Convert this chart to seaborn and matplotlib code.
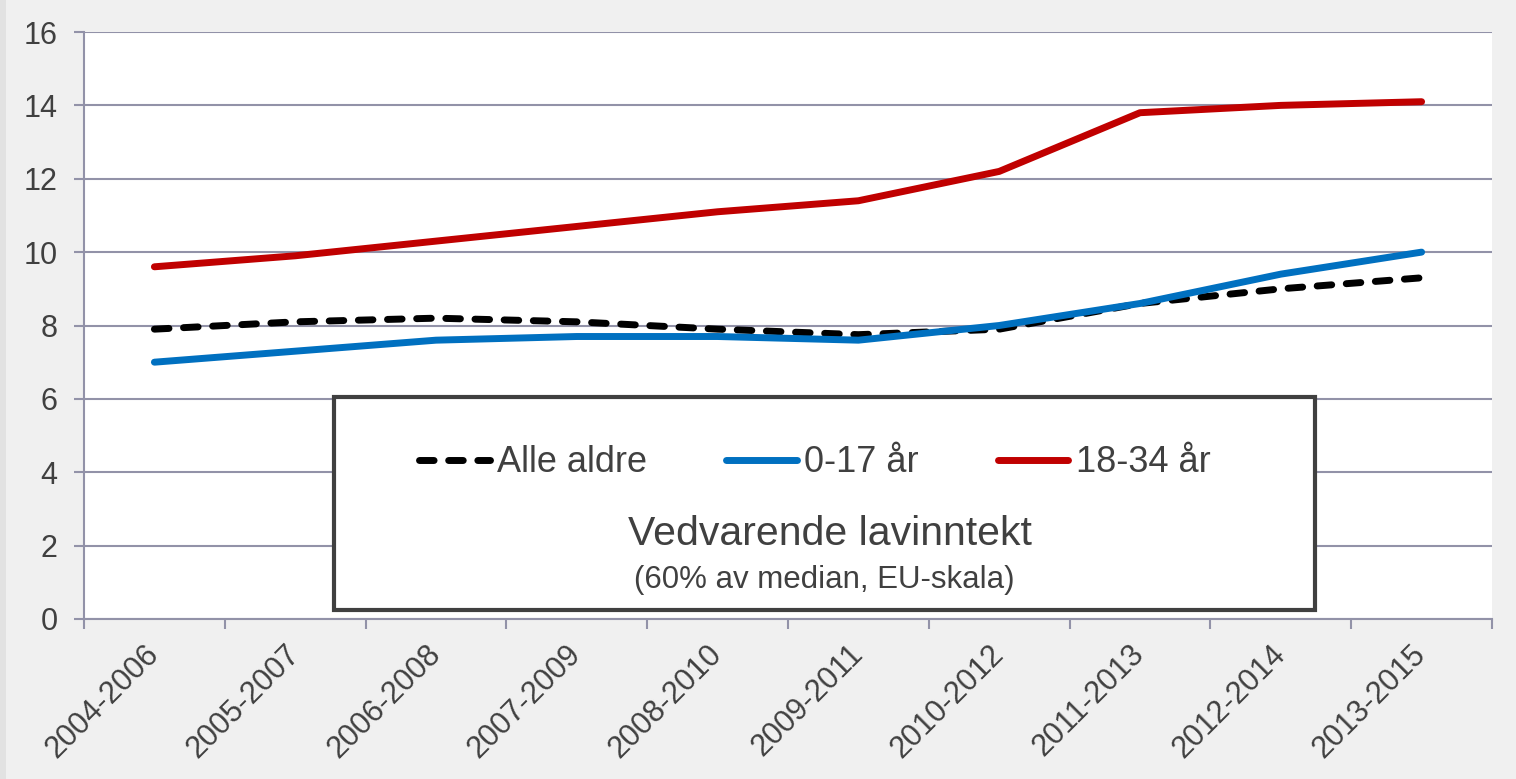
import numpy as np
import pandas as pd
import matplotlib
matplotlib.use('Agg')
import matplotlib.pyplot as plt
import seaborn as sns
from matplotlib.lines import Line2D
from matplotlib.patches import Rectangle

# data
perioder = ['2004-2006', '2005-2007', '2006-2008', '2007-2009', '2008-2010',
            '2009-2011', '2010-2012', '2011-2013', '2012-2014', '2013-2015']
alle_aldre = [7.9, 8.1, 8.2, 8.1, 7.9, 7.75, 7.9, 8.6, 9.0, 9.3]
barn_0_17 = [7.0, 7.3, 7.6, 7.7, 7.7, 7.6, 8.0, 8.6, 9.4, 10.0]
unge_18_34 = [9.6, 9.9, 10.3, 10.7, 11.1, 11.4, 12.2, 13.8, 14.0, 14.1]
grupper = ['Alle aldre', '0-17 år', '18-34 år']
farger = ['#000000', '#0070C0', '#C00000']
y_ticks = [0, 2, 4, 6, 8, 10, 12, 14, 16]

sns.set_theme(style='white')
plt.rcParams['font.family'] = ['Liberation Sans', 'DejaVu Sans']
tekst_farge = '#404040'
akse_farge = '#9292a8'

df = pd.DataFrame({
    'periode': perioder * 3,
    'andel': alle_aldre + barn_0_17 + unge_18_34,
    'gruppe': np.repeat(grupper, len(perioder)),
})

fig = plt.figure(figsize=(15.16, 7.79), dpi=100, facecolor='#f0f0f0')
fig.add_artist(Rectangle((0, 0), 6 / 1516, 1, transform=fig.transFigure,
                         color='#e2e2e2', lw=0))
ax = fig.add_axes([84 / 1516, 160 / 779, 1408 / 1516, 587 / 779])
ax.set_facecolor('white')

sns.lineplot(data=df, x='periode', y='andel', hue='gruppe', style='gruppe',
             palette=dict(zip(grupper, farger)),
             dashes={'Alle aldre': (2.1, 2.1), '0-17 år': '', '18-34 år': ''},
             linewidth=5, sort=False, legend=False, ax=ax,
             solid_capstyle='round', dash_capstyle='round', zorder=4)

ax.set_xlim(-0.5, len(perioder) - 0.5)
ax.set_ylim(0, 16)
ax.set_yticks(y_ticks)
ax.set_xticks(range(len(perioder)))
ax.set_xticklabels(perioder, rotation=45, ha='right', va='center',
                   rotation_mode='anchor')
ax.set_xticks(np.arange(-0.5, len(perioder)), minor=True)
ax.set_xlabel('')
ax.set_ylabel('')

ax.yaxis.grid(True, color=akse_farge, lw=1.5)
ax.set_axisbelow(True)
for side in ['top', 'right']:
    ax.spines[side].set_visible(False)
for side in ['left', 'bottom']:
    ax.spines[side].set_color(akse_farge)
    ax.spines[side].set_linewidth(1.5)

ax.tick_params(axis='y', length=7, width=1.5, color=akse_farge, pad=12,
               labelsize=22, labelcolor=tekst_farge, left=True)
ax.tick_params(axis='x', which='major', length=0, pad=22,
               labelsize=22, labelcolor=tekst_farge)
ax.tick_params(axis='x', which='minor', length=7, width=1.5,
               color=akse_farge, bottom=True)

# legend box with title inside the plot
ax.add_patch(Rectangle((0.1776, 0.0153), 0.6966, 0.3627, transform=ax.transAxes,
                       facecolor='white', edgecolor='#404040', lw=3, zorder=3))

handles = [
    Line2D([], [], color=farger[0], lw=5, dashes=(2.1, 2.1), dash_capstyle='round'),
    Line2D([], [], color=farger[1], lw=5, solid_capstyle='round'),
    Line2D([], [], color=farger[2], lw=5, solid_capstyle='round'),
]
leg = ax.legend(handles, grupper, loc='center', bbox_to_anchor=(0.519, 0.266),
                ncol=3, frameon=False, handlelength=1.95, handletextpad=0.2,
                columnspacing=2.2, prop={'size': 26})
for t in leg.get_texts():
    t.set_color(tekst_farge)
leg.set_zorder(6)

ax.text(0.53, 0.126, 'Vedvarende lavinntekt', transform=ax.transAxes,
        ha='center', va='baseline', fontsize=29.5,
        color=tekst_farge, zorder=6)
ax.text(0.526, 0.053, '(60% av median, EU-skala)', transform=ax.transAxes,
        ha='center', va='baseline', fontsize=22.5,
        color=tekst_farge, zorder=6)

fig.savefig('out.png', dpi=100, facecolor=fig.get_facecolor())
